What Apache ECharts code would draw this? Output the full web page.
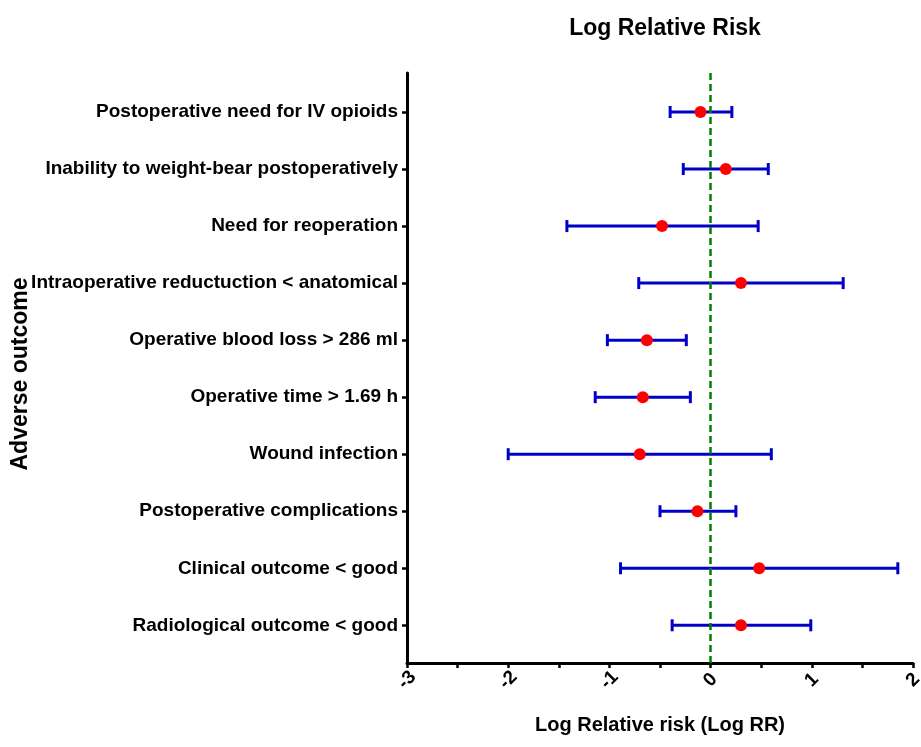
<!DOCTYPE html>
<html>
<head>
<meta charset="utf-8">
<script src="https://cdn.jsdelivr.net/npm/echarts@6/dist/echarts.min.js"></script>
<style>
html,body{margin:0;padding:0;background:#fff;}
#chart{width:921px;height:747px;}
</style>
</head>
<body>
<div id="chart"></div>
<script>
// Outcomes, top to bottom
var outcomes = [
  'Postoperative need for IV opioids',
  'Inability to weight-bear postoperatively',
  'Need for reoperation',
  'Intraoperative reductuction < anatomical',
  'Operative blood loss > 286 ml',
  'Operative time > 1.69 h',
  'Wound infection',
  'Postoperative complications',
  'Clinical outcome < good',
  'Radiological outcome < good'
];
var logRR   = [-0.10, 0.15, -0.48, 0.30, -0.63, -0.67, -0.70, -0.13, 0.48, 0.30];
var ciLow   = [-0.40, -0.27, -1.42, -0.71, -1.02, -1.14, -2.00, -0.50, -0.89, -0.38];
var ciHigh  = [0.21, 0.57, 0.47, 1.31, -0.24, -0.20, 0.60, 0.25, 1.85, 0.99];
var xTickLabels = [-3, -2, -1, 0, 1, 2];

var FONT = "'Liberation Sans', Arial, Helvetica, sans-serif";

var rowIdx = outcomes.map(function (_, i) { return i; });
var barData = outcomes.map(function (_, i) { return [ciLow[i], ciHigh[i], i]; });
var pointData = outcomes.map(function (_, i) { return [logRR[i], i]; });

var chart = echarts.init(document.getElementById('chart'), null, {renderer: 'canvas'});
chart.setOption({
  animation: false,
  backgroundColor: '#ffffff',
  title: {
    text: 'Log Relative Risk',
    left: 660,
    textAlign: 'center',
    top: 12,
    textStyle: {fontFamily: FONT, fontWeight: 'bold', fontSize: 23, color: '#000'}
  },
  grid: {left: 407, right: 8, top: 73, bottom: 84, containLabel: false, outerBoundsMode: 'none'},
  xAxis: {
    type: 'value',
    min: -3,
    max: 2,
    interval: 0.5,
    name: 'Log Relative risk (Log RR)',
    nameLocation: 'middle',
    nameGap: 52,
    nameMoveOverlap: false,
    nameTextStyle: {fontFamily: FONT, fontWeight: 'bold', fontSize: 20, color: '#000'},
    axisLine: {show: true, onZero: false, lineStyle: {color: '#000', width: 3}},
    axisTick: {show: true, length: 5, lineStyle: {color: '#000', width: 2.5}},
    splitLine: {show: false},
    axisLabel: {
      customValues: xTickLabels,
      rotate: 45,
      align: 'center',
      verticalAlign: 'middle',
      margin: 17,
      fontFamily: FONT, fontWeight: 'bold', fontSize: 19, color: '#000',
      formatter: function (v) { return String(v); }
    }
  },
  yAxis: {
    type: 'value',
    inverse: true,
    min: -0.684,
    max: 9.661,
    name: 'Adverse outcome',
    nameLocation: 'middle',
    nameGap: 375,
    nameMoveOverlap: false,
    nameTextStyle: {fontFamily: FONT, fontWeight: 'bold', fontSize: 23, color: '#000', padding: [0, 12, 0, 0]},
    axisLine: {show: true, onZero: false, lineStyle: {color: '#000', width: 3}},
    axisTick: {show: true, customValues: rowIdx, length: 5, lineStyle: {color: '#000', width: 2.5}},
    splitLine: {show: false},
    axisLabel: {
      customValues: rowIdx,
      margin: 9,
      fontFamily: FONT, fontWeight: 'bold', fontSize: 19, color: '#000',
      formatter: function (v) { return outcomes[Math.round(v)] || ''; }
    }
  },
  series: [
    {
      type: 'custom',
      data: barData,
      encode: {x: [0, 1], y: 2},
      renderItem: function (params, api) {
        var y = api.value(2);
        var p1 = api.coord([api.value(0), y]);
        var p2 = api.coord([api.value(1), y]);
        var cap = 6;
        var style = {stroke: '#0000c8', lineWidth: 3};
        return {
          type: 'group',
          children: [
            {type: 'line', shape: {x1: p1[0], y1: p1[1], x2: p2[0], y2: p2[1]}, style: style},
            {type: 'line', shape: {x1: p1[0], y1: p1[1] - cap, x2: p1[0], y2: p1[1] + cap}, style: style},
            {type: 'line', shape: {x1: p2[0], y1: p2[1] - cap, x2: p2[0], y2: p2[1] + cap}, style: style}
          ]
        };
      },
      markLine: {
        silent: true,
        symbol: ['none', 'none'],
        label: {show: false},
        lineStyle: {color: '#008000', width: 2.5, type: [7, 4]},
        data: [{xAxis: 0}]
      },
      z: 2
    },
    {
      type: 'scatter',
      data: pointData,
      symbol: 'circle',
      symbolSize: 12,
      itemStyle: {color: '#ff0000', opacity: 1},
      z: 5
    }
  ]
});
</script>
</body>
</html>
